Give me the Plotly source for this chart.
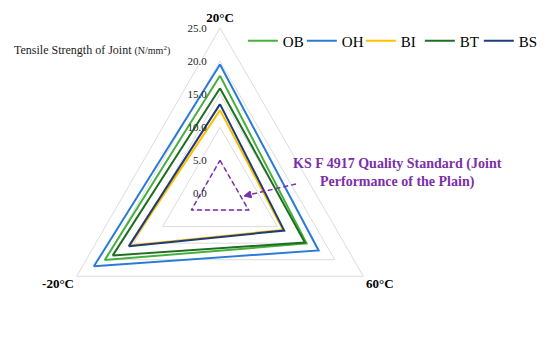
import plotly.graph_objects as go

# axes of the radar (clockwise from top)
categories = ["20°C", "60°C", "-20°C"]

# tensile strength of joint (N/mm2) per temperature
ob = [17.8, 15.1, 20.1]
oh = [19.5, 17.2, 22.0]
bi = [12.6, 11.0, 15.7]
bt = [15.9, 14.8, 18.7]
bs = [13.5, 11.2, 15.9]
ks_standard = [5.0, 5.0, 5.0]

radial_ticks = [0, 5, 10, 15, 20, 25]

FONT = "Liberation Serif"
PURPLE = "#7b2fa8"

series = [
    ("OB", ob, "#45b03d"),
    ("OH", oh, "#2a7bd6"),
    ("BI", bi, "#ffc000"),
    ("BT", bt, "#1f6f22"),
    ("BS", bs, "#1f3c7a"),
]


def closed(vals):
    return list(vals) + [vals[0]]


fig = go.Figure()

fig.add_trace(go.Scatterpolar(
    r=closed(ks_standard), theta=closed(categories), mode="lines",
    line=dict(color=PURPLE, width=1.5, dash="5px,3px"), showlegend=False,
))

for name, vals, color in series:
    fig.add_trace(go.Scatterpolar(
        r=closed(vals), theta=closed(categories), mode="lines", name=name,
        line=dict(color=color, width=2),
    ))

fig.update_layout(
    width=550, height=351,
    margin=dict(l=0, r=0, t=0, b=0, autoexpand=False),
    paper_bgcolor="white",
    font=dict(family=FONT, color="black"),
    polar=dict(
        domain=dict(x=[0.08455, 0.68636], y=[0.0, 0.94302]),
        bgcolor="white",
        gridshape="linear",
        radialaxis=dict(
            range=[0, 25], tickvals=radial_ticks, tickformat=".1f",
            angle=90, tickangle=90, side="counterclockwise",
            showline=False, ticks="outside", ticklen=9,
            tickcolor="rgba(0,0,0,0)",
            gridcolor="#dcdcdc", gridwidth=1,
            tickfont=dict(size=11, family=FONT, color="#222"),
        ),
        angularaxis=dict(
            type="category", categoryarray=categories, rotation=90,
            direction="clockwise", showgrid=False, showline=True,
            linecolor="#dcdcdc", linewidth=1, ticks="",
            tickfont=dict(size=13, family=FONT, color="black", weight="bold"),
        ),
    ),
    legend=dict(
        orientation="h", x=0.427, y=0.906, xanchor="left", yanchor="middle",
        font=dict(size=15, family=FONT), bgcolor="rgba(0,0,0,0)",
        entrywidth=14, entrywidthmode="pixels", itemwidth=30,
    ),
)

# axis title
fig.add_annotation(
    text="Tensile Strength of Joint <span style='font-size:10px'>(N/mm<sup>2</sup>)</span>",
    xref="paper", yref="paper", x=0.00727, y=0.8803,
    xanchor="left", yanchor="middle", showarrow=False,
    font=dict(size=12, family=FONT, color="#222"),
)

# quality standard label
fig.add_annotation(
    text="KS F 4917 Quality Standard (Joint<br>Performance of the Plain)",
    xref="paper", yref="paper", x=0.709, y=0.5313,
    xanchor="center", yanchor="middle", showarrow=False, align="center",
    font=dict(size=14, family=FONT, color=PURPLE, weight="bold"),
)

# dashed pointer to the standard triangle, with its head
fig.add_shape(
    type="line", xref="paper", yref="paper",
    x0=0.52364, y0=0.49858, x1=0.44145, y1=0.46895,
    line=dict(color=PURPLE, width=1.5, dash="5px,3px"),
)
fig.add_shape(
    type="path", xref="paper", yref="paper",
    path="M0.42909,0.46439 L0.44291,0.45926 L0.44000,0.47863 Z",
    fillcolor=PURPLE, line=dict(color=PURPLE, width=1),
)

fig.write_html("out.html")
